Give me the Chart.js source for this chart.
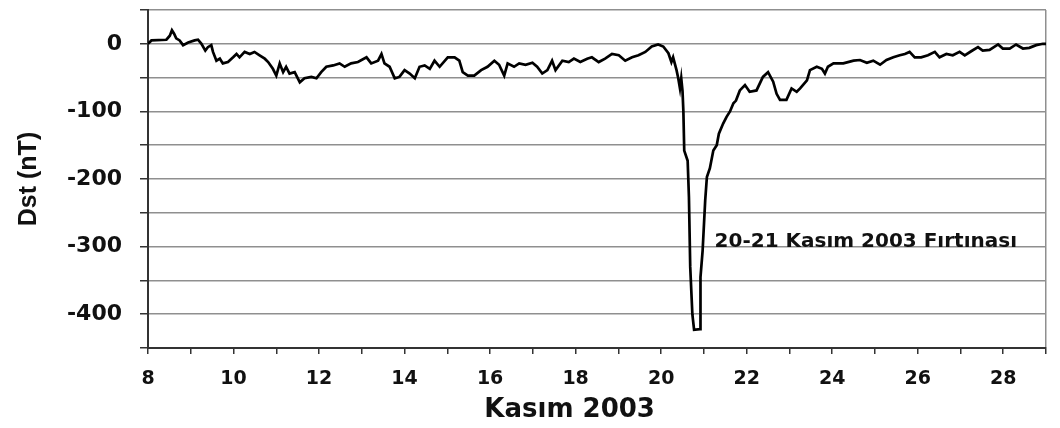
<!DOCTYPE html>
<html>
<head>
<meta charset="utf-8">
<script src="https://cdn.jsdelivr.net/npm/chart.js@4.4.0/dist/chart.umd.min.js"></script>
<style>
  html, body { margin: 0; padding: 0; background: #fff; }
  #wrap { width: 1060px; height: 428px; }
</style>
</head>
<body>
<div id="wrap"><canvas id="dst"></canvas></div>
<script>
// Dst index, November 2003 (day of month, nT)
const days = [
  8.00, 8.08, 8.43, 8.51, 8.56, 8.61, 8.66, 8.74, 8.82, 8.94, 9.09, 9.17, 9.25, 9.34, 9.40, 9.48,
  9.52, 9.60, 9.68, 9.75, 9.87, 9.99, 10.07, 10.14, 10.26, 10.38, 10.49, 10.61, 10.73, 10.81, 10.92,
  11.00, 11.08, 11.16, 11.23, 11.31, 11.43, 11.55, 11.66, 11.82, 11.94, 12.05, 12.17, 12.33, 12.48,
  12.60, 12.75, 12.91, 13.11, 13.22, 13.38, 13.46, 13.53, 13.65, 13.77, 13.88, 14.00, 14.12, 14.24,
  14.35, 14.47, 14.59, 14.70, 14.82, 15.01,
  15.17, 15.28, 15.36, 15.48, 15.63, 15.79, 15.94, 16.10, 16.21, 16.33, 16.41, 16.56, 16.68, 16.83, 16.99,
  17.10, 17.22, 17.34, 17.45, 17.53, 17.69, 17.84, 17.96, 18.11, 18.27, 18.38, 18.54, 18.69, 18.85,
  19.01, 19.16, 19.32, 19.47, 19.63, 19.78, 19.93, 20.05, 20.17, 20.24, 20.28, 20.36, 20.40, 20.44,
  20.47, 20.50, 20.52, 20.54, 20.62, 20.65, 20.68, 20.73, 20.77, 20.91, 20.92, 20.97, 21.03, 21.07,
  21.14, 21.22, 21.30, 21.35, 21.45, 21.53, 21.61, 21.69, 21.75, 21.84, 21.96, 22.07, 22.23, 22.38,
  22.50, 22.62, 22.70, 22.78, 22.93, 23.05, 23.17, 23.25, 23.41, 23.48, 23.64, 23.76, 23.83, 23.90,
  24.03, 24.26, 24.50, 24.65, 24.81, 24.96, 25.12, 25.27, 25.43, 25.58, 25.70, 25.81, 25.93, 26.08,
  26.24, 26.40, 26.51, 26.67, 26.82, 26.98, 27.10, 27.25, 27.41, 27.52, 27.68, 27.88, 27.99, 28.15,
  28.30, 28.46, 28.61, 28.77, 28.93, 29.00
];
const dst = [
  0, 5, 6, 12, 20, 15, 8, 5, -2, 2, 5, 6, 0, -10, -5, -2,
  -12, -25, -22, -29, -27, -20, -15, -20, -12, -15, -12, -17, -22, -27, -37,
  -47, -29, -42, -34, -44, -42, -57, -51, -49, -51, -42, -34, -32, -29,
  -34, -29, -27, -20, -29, -25, -15, -29, -34, -51, -49, -39, -44, -51,
  -34, -32, -37, -25, -34, -20,
  -20, -25, -42, -47, -47, -39, -34, -25, -31, -47, -29, -34, -29, -31, -28,
  -34, -44, -39, -25, -39, -25, -27, -22, -27, -22, -20, -27, -22, -15,
  -17, -25, -20, -17, -12, -4, -1, -4, -14, -27, -20, -39, -51, -66,
  -51, -70, -100, -158, -173, -227, -330, -400, -423, -422, -345, -306, -232, -197,
  -184, -158, -150, -133, -118, -108, -100, -88, -84, -69, -61, -71, -69, -49,
  -42, -56, -74, -83, -83, -66, -71, -66, -54, -39, -34, -37, -44, -34,
  -29, -29, -25, -24, -28, -25, -31, -24, -20, -17, -15, -12, -20, -20,
  -17, -12, -20, -15, -17, -12, -17, -11, -5, -10, -9, -1, -7, -7,
  -1, -7, -6, -2, 0, 0
];

const xTickLabels = [8, 10, 12, 14, 16, 18, 20, 22, 24, 26, 28];
const yTickLabels = [0, -100, -200, -300, -400];

const xTitle = 'Kasım 2003';
const stormText = '20-21 Kasım 2003 Fırtınası';
const stormAt = [21.25, -300];   // day, nT

const gridGrey = '#8f8f8f';
const axisDark = '#333333';

// storm note at a data position, x title centred under the labelled days
const notes = {
  id: 'notes',
  afterDraw(chart) {
    const {ctx, scales} = chart;
    ctx.save();
    ctx.fillStyle = '#111';
    ctx.font = 'bold 20px "DejaVu Sans", sans-serif';
    ctx.textBaseline = 'alphabetic';
    ctx.fillText(stormText, scales.x.getPixelForValue(stormAt[0]), scales.y.getPixelForValue(stormAt[1]));

    const mid = (xTickLabels[0] + xTickLabels[xTickLabels.length - 1]) / 2;
    ctx.font = 'bold 26px "DejaVu Sans", sans-serif';
    ctx.textAlign = 'center';
    ctx.textBaseline = 'middle';
    ctx.fillText(xTitle, scales.x.getPixelForValue(mid) - 6, scales.x.bottom - 18);
    ctx.restore();
  }
};

new Chart(document.getElementById('dst'), {
  type: 'line',
  data: {
    datasets: [{
      data: days.map((d, i) => ({x: d, y: dst[i]})),
      borderColor: '#000',
      borderWidth: 2.7,
      pointRadius: 0,
      tension: 0,
      fill: false
    }]
  },
  options: {
    responsive: true,
    maintainAspectRatio: false,
    animation: false,
    events: [],
    layout: {padding: {top: 10, right: 14, bottom: 0, left: 0}},
    plugins: {legend: {display: false}, tooltip: {enabled: false}},
    scales: {
      x: {
        type: 'linear',
        min: 8,
        max: 29,
        afterFit: (s) => { s.height = 80; },
        border: {display: true, color: axisDark, width: 2},
        grid: {
          color: (c) => c.tick && c.tick.value === 29 ? gridGrey : 'rgba(0,0,0,0)',
          lineWidth: 1.5,
          drawTicks: true,
          tickLength: 6,
          tickColor: axisDark,
          tickWidth: 1.5
        },
        ticks: {
          stepSize: 1,
          autoSkip: false,
          maxRotation: 0,
          padding: 14,
          color: '#111',
          font: {family: '"DejaVu Sans", sans-serif', size: 19, weight: 'bold'},
          callback: (v) => xTickLabels.includes(v) ? String(v) : ''
        },
        title: {display: false}
      },
      y: {
        min: -450,
        max: 50,
        afterFit: (s) => { s.width = 148; s.paddingTop = 0; s.paddingBottom = 0; },
        border: {display: true, color: axisDark, width: 2},
        grid: {
          color: gridGrey,
          lineWidth: 1.5,
          drawTicks: true,
          tickLength: 8,
          tickColor: axisDark,
          tickWidth: 1.5
        },
        ticks: {
          stepSize: 50,
          autoSkip: false,
          padding: 18,
          color: '#111',
          font: {family: '"DejaVu Sans", sans-serif', size: 22, weight: 'bold'},
          callback: (v) => yTickLabels.includes(v) ? String(v) : ''
        },
        title: {
          display: true,
          text: 'Dst (nT)',
          color: '#111',
          font: {family: '"Liberation Sans", sans-serif', size: 25, weight: 'bold'},
          padding: {top: 14, bottom: 0}
        }
      }
    }
  },
  plugins: [notes]
});
</script>
</body>
</html>
